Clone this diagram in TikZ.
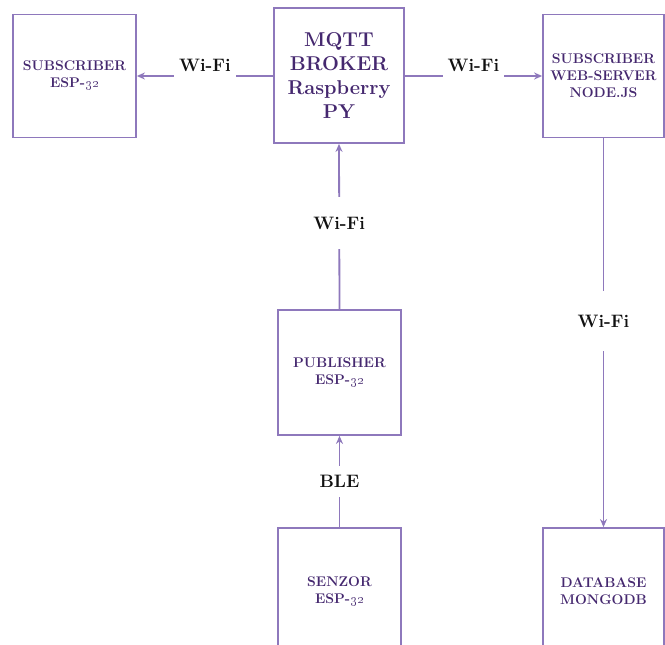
\documentclass[tikz,border=0pt]{standalone}
\usepackage{tikz}
\usetikzlibrary{positioning,arrows.meta}
\definecolor{bline}{HTML}{8E78BC}
\definecolor{btext}{HTML}{45286F}
\definecolor{wtext}{HTML}{111111}
\tikzset{
  bx/.style  = {draw=bline, fill=white, line width=1.8pt, align=center,
                minimum width=123pt, minimum height=123pt, inner sep=0pt,
                font=\fontsize{14}{17}\selectfont\bfseries, text=btext},
  bb/.style  = {bx, minimum width=130pt, minimum height=135pt,
                font=\fontsize{20}{24}\selectfont\bfseries},
  a/.style   = {-{Stealth[length=8pt,width=7pt]}, line width=1.8pt, draw=bline},
  lbl/.style = {font=\fontsize{18}{20}\selectfont\bfseries, text=wtext,
                fill=white, inner xsep=5pt, inner ysep=9pt},
}

\begin{document}
\begin{tikzpicture}[x=1pt,y=1pt]
\useasboundingbox (0,0) rectangle (665,-645);

% ---- top row
\node[bx] (sub)    at (74.5,-76)    {SUBSCRIBER\\ESP-\oldstylenums{32}};
\node[bb] (broker) at (339,-75.5)   {MQTT\\BROKER\\Raspberry\\PY};
\node[bx, minimum width=121pt] (web) at (603.5,-76)
          {SUBSCRIBER\\WEB-SERVER\\NODE.JS};

% ---- lower boxes
\node[bx, minimum height=125pt] (pub) at (339.5,-372.5) {PUBLISHER\\ESP-\oldstylenums{32}};
\node[bx, minimum height=127pt] (sen) at (339.5,-591.5) {SENZOR\\ESP-\oldstylenums{32}};
\node[bx, minimum width=121pt, minimum height=127pt] (db) at (603.5,-591.5)
          {DATABASE\\MONGODB};

% ---- links
\draw[a] (broker.west |- sub.east) -- node[lbl, yshift=11pt] {Wi-Fi} (sub.east);
\draw[a] (broker.east |- web.west) -- node[lbl, yshift=11pt] {Wi-Fi} (web.west);
\draw[a] (pub.north) -- node[lbl, pos=0.52, inner ysep=20pt] {Wi-Fi} (broker.south);
\draw[a] (sen.north) -- node[lbl, pos=0.5] {BLE} (pub.south);
\draw[a] (web.south) -- node[lbl, pos=0.47, inner ysep=24pt] {Wi-Fi} (db.north);

\end{tikzpicture}
\end{document}
